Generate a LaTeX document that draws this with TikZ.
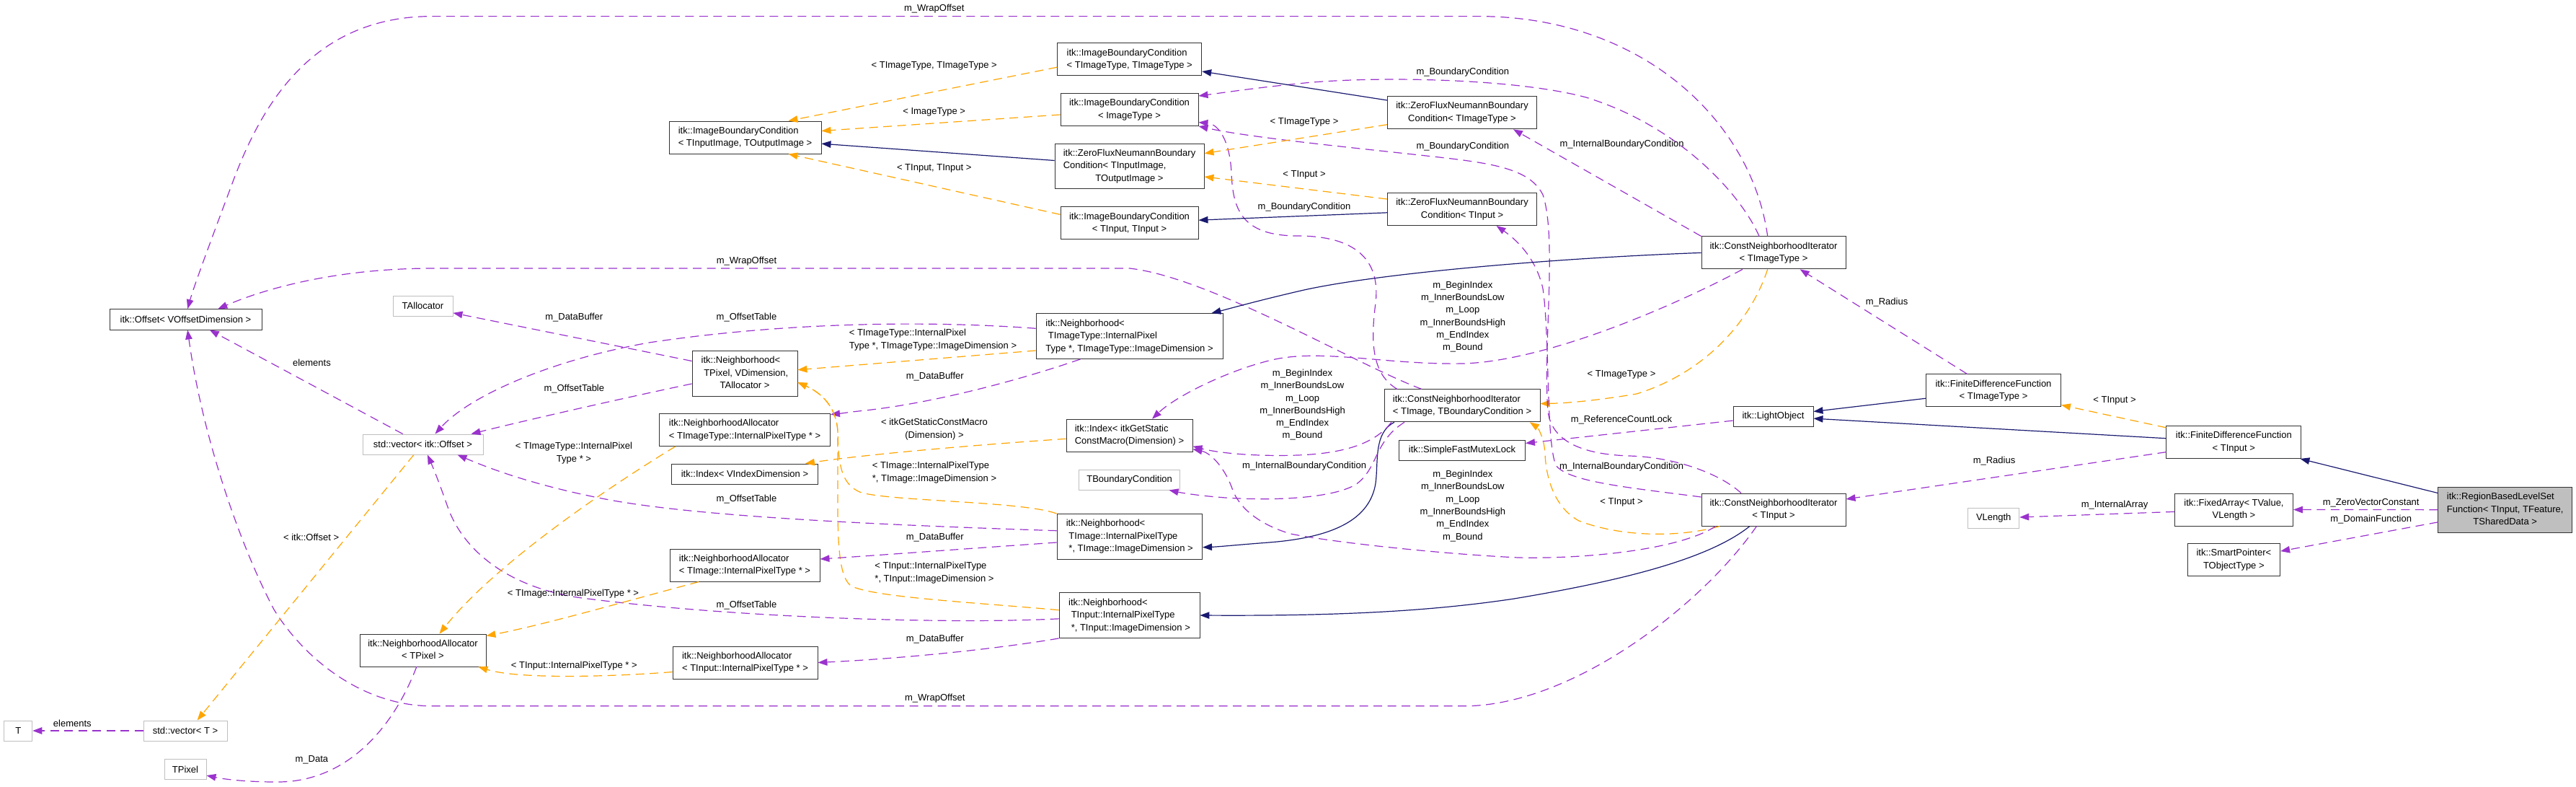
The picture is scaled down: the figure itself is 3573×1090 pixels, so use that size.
\documentclass[tikz,border=0pt]{standalone}
\usepackage{fontspec}
\setmainfont{Liberation Sans}
\usetikzlibrary{arrows.meta}
\definecolor{inhc}{HTML}{191970}
\definecolor{usec}{HTML}{9A32CD}
\definecolor{tplc}{HTML}{FFA500}
\definecolor{grayb}{HTML}{BFBFBF}
\definecolor{bord}{HTML}{333333}
\newcommand\dxfont{\fontsize{13}{17.5}\selectfont}
\newcommand\dxlab[2]{\begin{tabular}{@{}l@{}}#1\\\multicolumn{1}{@{}c@{}}{#2}\end{tabular}}
\tikzset{
  cls/.style 2 args={draw=bord, line width=0.9pt, fill=white, inner sep=0pt, minimum width=#1pt, minimum height=#2pt, font=\dxfont},
  ucls/.style 2 args={cls={#1}{#2}, draw=grayb},
  dxtip/.style={-{Triangle[length=13pt,width=9.5pt]}},
  inh/.style={draw=inhc, line width=1.2pt, dxtip},
  use/.style={draw=usec, line width=1.2pt, dash pattern=on 12pt off 7.5pt, dxtip},
  tpl/.style={draw=tplc, line width=1.2pt, dash pattern=on 12pt off 7.5pt, dxtip},
  lab/.style={font=\dxfont, inner sep=0pt, text height=9.4pt, text depth=2.6pt},
  mlab/.style={font={\fontsize{13}{17.3}\selectfont}, inner sep=0pt, align=center},
}
\begin{document}
\begin{tikzpicture}[x=1pt,y=-1pt]
\useasboundingbox (0,0) rectangle (3573,1090);
% ---------------- nodes
\node[cls={211}{28.4}] (off) at (257.5,442.8) {itk::Offset< VOffsetDimension >};
\node[ucls={83}{28}] (talloc) at (586.5,424) {TAllocator};
\node[ucls={167}{28}] (vecoff) at (586.5,616) {std::vector< itk::Offset >};
\node[ucls={39}{28}] (tT) at (25.3,1013) {T};
\node[ucls={116}{28}] (vecT) at (257,1013) {std::vector< T >};
\node[ucls={58}{27.5}] (tpix) at (257,1066.5) {TPixel};
\node[cls={175}{45}] (naPix) at (586.5,901.5) {\dxlab{itk::NeighborhoodAllocator}{< TPixel >}};
\node[cls={211}{45}] (ibcIO) at (1033.5,190.5) {\dxlab{itk::ImageBoundaryCondition}{< TInputImage, TOutputImage >}};
\node[cls={146}{63}] (nbPix) at (1033,517.5) {\dxlab{itk::Neighborhood<\\\ TPixel, VDimension,}{TAllocator >}};
\node[cls={237}{45}] (naTT) at (1033,596) {\dxlab{itk::NeighborhoodAllocator}{< TImageType::InternalPixelType * >}};
\node[cls={203}{28}] (idxV) at (1033,657) {itk::Index< VIndexDimension >};
\node[cls={208}{45}] (naTI) at (1033,783.7) {\dxlab{itk::NeighborhoodAllocator}{< TImage::InternalPixelType * >}};
\node[cls={201}{45}] (naTIn) at (1033.5,918.5) {\dxlab{itk::NeighborhoodAllocator}{< TInput::InternalPixelType * >}};
\node[cls={200}{45}] (ibcTT) at (1566.7,82.4) {\dxlab{itk::ImageBoundaryCondition}{< TImageType, TImageType >}};
\node[cls={191}{45}] (ibcI) at (1566.5,152) {\dxlab{itk::ImageBoundaryCondition}{< ImageType >}};
\node[cls={207}{62.7}] (zfIO) at (1566.5,230.4) {\dxlab{itk::ZeroFluxNeumannBoundary\\Condition< TInputImage,}{TOutputImage >}};
\node[cls={191}{45}] (ibcIn) at (1566.5,309.4) {\dxlab{itk::ImageBoundaryCondition}{< TInput, TInput >}};
\node[cls={259}{63}] (nbTT) at (1566.5,466) {\dxlab{itk::Neighborhood<\\\ TImageType::InternalPixel}{Type *, TImageType::ImageDimension >}};
\node[cls={175}{45}] (idxS) at (1566.5,603.7) {\dxlab{itk::Index< itkGetStatic}{ConstMacro(Dimension) >}};
\node[ucls={140}{28}] (tbc) at (1566.6,665) {TBoundaryCondition};
\node[cls={201.6}{62.5}] (nbTI) at (1566.8,743.7) {\dxlab{itk::Neighborhood<\\\ TImage::InternalPixelType}{\ *, TImage::ImageDimension >}};
\node[cls={195}{63}] (nbTIn) at (1566.5,853) {\dxlab{itk::Neighborhood<\\\ TInput::InternalPixelType}{\ *, TInput::ImageDimension >}};
\node[cls={207}{45.7}] (zfT) at (2028,156) {\dxlab{itk::ZeroFluxNeumannBoundary}{Condition< TImageType >}};
\node[cls={207}{45}] (zfIn) at (2028,290) {\dxlab{itk::ZeroFluxNeumannBoundary}{Condition< TInput >}};
\node[cls={200}{45}] (cniT) at (2460,350.4) {\dxlab{itk::ConstNeighborhoodIterator}{< TImageType >}};
\node[cls={216}{45}] (cniB) at (2028,562.4) {\dxlab{itk::ConstNeighborhoodIterator}{< TImage, TBoundaryCondition >}};
\node[cls={175}{28}] (mutex) at (2028,624) {itk::SimpleFastMutexLock};
\node[cls={200}{45}] (cniIn) at (2460,706.6) {\dxlab{itk::ConstNeighborhoodIterator}{< TInput >}};
\node[cls={111}{28}] (light) at (2459.5,577) {itk::LightObject};
\node[cls={187}{45}] (fdfT) at (2765,541.3) {\dxlab{itk::FiniteDifferenceFunction}{< TImageType >}};
\node[cls={187}{45}] (fdfIn) at (3098.3,613) {\dxlab{itk::FiniteDifferenceFunction}{< TInput >}};
\node[ucls={71}{28}] (vlen) at (2765.2,718.3) {VLength};
\node[cls={164}{45}] (fixed) at (3098.5,706.5) {\dxlab{itk::FixedArray< TValue,}{VLength >}};
\node[cls={128.6}{45.7}] (smart) at (3098.3,776) {\dxlab{itk::SmartPointer<}{TObjectType >}};
\node[cls={185.6}{62.7}, fill=grayb] (root) at (3474.7,706.7) {\dxlab{itk::RegionBasedLevelSet\\Function< TInput, TFeature,}{TSharedData >}};
% ---------------- edges
\draw[inh] (root) -- (fdfIn);
\draw[use] (root) -- (fixed);
\draw[use] (root) -- (smart);
\draw[inh] (fdfIn) -- (light);
\draw[use] (fdfIn) -- (cniIn);
\draw[tpl] (fdfIn) -- (fdfT);
\draw[inh] (fdfT) -- (light);
\draw[use] (fdfT) -- (cniT);
\draw[use] (fixed) -- (vlen);
\draw[use] (light) -- (mutex);
\draw[tpl] ([xshift=25.7pt]cniIn.south west) .. controls (2330,745) and (2250,745) .. (2190,722) .. controls (2150,700) and (2144,650) .. (2143,630) .. controls (2142,605) and (2132,592) .. ([xshift=-14.6pt]cniB.south east);
\draw[tpl] ([xshift=-8.3pt]cniT.south) .. controls (2430,440) and (2370,515) .. (2270,546) .. controls (2210,556) and (2170,559) .. ([yshift=2.8pt]cniB.east);
\draw[use] ([yshift=17.6pt]cniIn.west) .. controls (2260,676) and (2175,668) .. (2158,645) .. controls (2144,610) and (2150,470) .. (2140,400) .. controls (2130,355) and (2100,330) .. ([xshift=47.5pt]zfIn.south);
\draw[use] ([xshift=-45pt]cniIn.north) .. controls (2390,660) and (2330,634) .. (2260,632) .. controls (2195,630) and (2152,612) .. (2147,570) .. controls (2140,480) and (2160,330) .. (2140,270) .. controls (2120,230) and (2060,225) .. (1960,214) .. controls (1860,203) and (1730,190) .. (ibcI.south east);
\draw[use] ([xshift=20pt]cniIn.south west) .. controls (2330,762) and (2200,775) .. (2106,773) .. controls (2000,768) and (1850,752) .. (1790,740) .. controls (1740,725) and (1718,700) .. (1710,680) .. controls (1700,650) and (1680,628) .. ([yshift=-19pt]idxS.east);
\draw[use] ([xshift=-23.6pt]cniIn.south) .. controls (2360,840) and (2180,978.8) .. (2030,978.8) -- (600,978.8) .. controls (500,978.8) and (420,910) .. (380,845) .. controls (330,750) and (280,600) .. ([xshift=2.7pt]off.south);
\draw[inh] ([xshift=-33.2pt]cniIn.south) .. controls (2370,775) and (2250,805) .. (2100,830) .. controls (1980,848) and (1850,854) .. (nbTIn.east);
\draw[inh] ([xshift=-94pt]cniB.south) .. controls (1905,600) and (1912,640) .. (1908,670) .. controls (1900,720) and (1850,745) .. (1760,752) .. controls (1720,755) and (1690,758) .. ([yshift=-15pt]nbTI.east);
\draw[use] ([xshift=-80pt]cniB.south) .. controls (1905,612) and (1912,650) .. (1880,672) .. controls (1845,692) and (1760,694) .. (1700,690) .. controls (1660,687) and (1638,683) .. ([xshift=-15.6pt]tbc.south east);
\draw[use] ([xshift=-98pt]cniB.south) .. controls (1912,608) and (1880,628) .. (1800,631) .. controls (1740,633) and (1690,628) .. ([yshift=-15pt]idxS.east);
\draw[use] ([xshift=-90pt]cniB.north) .. controls (1905,520) and (1900,480) .. (1908,420) .. controls (1915,360) and (1880,327) .. (1800,327) .. controls (1722,327) and (1710,290) .. (1708,240) .. controls (1706,195) and (1690,172) .. ([yshift=-17.6pt]ibcI.east);
\draw[use] ([xshift=-56pt]cniB.north) .. controls (1880,505) and (1680,385) .. (1567,372) -- (600,372) .. controls (480,372) and (380,395) .. ([xshift=44.8pt]off.north);
\draw[use] ([xshift=-8.3pt]cniT.north) .. controls (2430,170) and (2280,22.6) .. (2050,22.6) -- (600,22.6) .. controls (430,22.6) and (360,150) .. (320,260) .. controls (290,340) and (268,400) .. ([xshift=2.7pt]off.north);
\draw[use] ([xshift=-20pt]cniT.north) .. controls (2415,270) and (2330,175) .. (2200,135) .. controls (2100,108) and (1900,105) .. (1800,116) .. controls (1740,122) and (1700,128) .. ([yshift=19pt]ibcI.east);
\draw[use] (cniT.north west) -- ([xshift=-33pt]zfT.south east);
\draw[use] ([xshift=-43pt]cniT.south) .. controls (2330,420) and (2150,500) .. (2030,504) .. controls (1920,506) and (1830,482) .. (1760,500) .. controls (1700,515) and (1630,550) .. ([xshift=31.5pt]idxS.north);
\draw[inh] (cniT.west) .. controls (2150,358) and (1900,380) .. (1800,404) .. controls (1740,418) and (1705,428) .. ([xshift=-16pt]nbTT.north east);
\draw[tpl] ([yshift=-16.7pt]zfT.west) -- ([yshift=17.7pt]zfIO.east);
\draw[inh] ([yshift=17pt]zfT.west) -- ([yshift=-16.6pt]ibcTT.east);
\draw[tpl] ([yshift=14pt]zfIn.west) -- ([yshift=-14.6pt]zfIO.east);
\draw[inh] ([yshift=-4.8pt]zfIn.west) -- ([yshift=4.2pt]ibcIn.east);
\draw[inh] ([yshift=7.9pt]zfIO.west) -- ([yshift=-8.7pt]ibcIO.east);
\draw[tpl] ([yshift=-10.8pt]ibcTT.west) -- ([xshift=60pt]ibcIO.north);
\draw[tpl] ([yshift=-7pt]ibcI.west) -- ([yshift=9pt]ibcIO.east);
\draw[tpl] ([yshift=12pt]ibcIn.west) -- ([xshift=60pt]ibcIO.south);
\draw[tpl] ([yshift=-20pt]nbTT.west) -- ([yshift=4.8pt]nbPix.east);
\draw[use] ([yshift=10.7pt]nbTT.west) .. controls (1300,445) and (1100,445) .. (900,475) .. controls (760,500) and (650,550) .. ([xshift=17pt]vecoff.north);
\draw[use] ([xshift=-68pt]nbTT.south) .. controls (1420,525) and (1300,558) .. (1200,569) .. controls (1180,571) and (1168,573) .. ([yshift=21.5pt]naTT.east);
\draw[tpl] ([yshift=-4.6pt]idxS.west) .. controls (1350,617) and (1200,630) .. ([xshift=-18pt]idxV.north east);
\draw[tpl] (nbTI.north west) .. controls (1420,695) and (1240,695) .. (1195,683) .. controls (1165,672) and (1163,640) .. (1162,600) .. controls (1161,565) and (1140,545) .. ([yshift=-12.5pt]nbPix.east);
\draw[tpl] ([yshift=7.3pt]nbTIn.west) .. controls (1350,835) and (1210,828) .. (1180,812) .. controls (1165,800) and (1162,760) .. (1162,700) -- (1162,600) .. controls (1161,565) and (1140,545) .. ([yshift=-12.5pt]nbPix.east);
\draw[use] ([yshift=8pt]nbTI.west) .. controls (1200,727) and (950,715) .. (830,690) .. controls (740,672) and (680,650) .. ([xshift=48pt]vecoff.south);
\draw[use] ([yshift=-8.3pt]nbTI.west) .. controls (1350,760) and (1200,771) .. ([yshift=8.7pt]naTI.east);
\draw[use] ([yshift=-4.8pt]nbTIn.west) .. controls (1300,866) and (1000,855) .. (800,828) .. controls (700,812) and (640,760) .. (620,700) .. controls (606,660) and (598,642) .. ([xshift=6.5pt]vecoff.south);
\draw[use] (nbTIn.south west) .. controls (1380,900) and (1250,913) .. (naTIn.east);
\draw[use] ([yshift=17pt]nbPix.west) -- ([yshift=-9.8pt]talloc.east);
\draw[use] ([yshift=-14.5pt]nbPix.west) .. controls (850,555) and (720,585) .. ([xshift=-17pt]vecoff.north east);
\draw[tpl] ([xshift=-96.3pt]naTT.south) .. controls (820,690) and (680,790) .. ([xshift=23pt]naPix.north);
\draw[tpl] ([xshift=-64pt]naTI.south) .. controls (880,830) and (760,865) .. ([yshift=20pt]naPix.east);
\draw[tpl] ([yshift=-13pt]naTIn.west) .. controls (850,938) and (720,942) .. ([xshift=-11pt]naPix.south east);
\draw[use] ([xshift=-8.7pt]naPix.south) .. controls (545,1010) and (480,1085) .. (383,1084) .. controls (340,1084) and (310,1080) .. ([yshift=-8.5pt]tpix.east);
\draw[tpl] ([xshift=-12.5pt]vecoff.south) -- ([xshift=16.6pt]vecT.north);
\draw[use] (vecT) -- (tT);
\draw[use] ([xshift=-27.8pt]vecoff.north) -- ([xshift=33.3pt]off.south);
% ---------------- labels
\node[lab] (L1) at (3288.7,697) {m\_ZeroVectorConstant};
\node[lab] (L2) at (3288.7,720) {m\_DomainFunction};
\node[lab] (L3) at (2766,639) {m\_Radius};
\node[lab] (L4) at (2933,555.4) {< TInput >};
\node[lab] (L5) at (2617,419.5) {m\_Radius};
\node[lab] (L6) at (2933,700) {m\_InternalArray};
\node[lab] (L7) at (2249,582) {m\_ReferenceCountLock};
\node[lab] (L8) at (2249,696.2) {< TInput >};
\node[lab] (L9) at (2249,519) {< TImageType >};
\node[lab] (L10) at (2249,647.5) {m\_InternalBoundaryCondition};
\node[lab] (L11) at (2028.8,203) {m\_BoundaryCondition};
\node[mlab] (L12) at (2028.8,701.4) {m\_BeginIndex\\m\_InnerBoundsLow\\m\_Loop\\m\_InnerBoundsHigh\\m\_EndIndex\\m\_Bound};
\node[lab] (L13) at (1296.8,968.4) {m\_WrapOffset};
\node[lab] (L14) at (1809,646.5) {m\_InternalBoundaryCondition};
\node[mlab] (L15) at (1806.5,561.3) {m\_BeginIndex\\m\_InnerBoundsLow\\m\_Loop\\m\_InnerBoundsHigh\\m\_EndIndex\\m\_Bound};
\node[lab] (L16) at (1809,286.8) {m\_BoundaryCondition};
\node[lab] (L17) at (1035.5,362.5) {m\_WrapOffset};
\node[lab] (L18) at (1295.7,12.2) {m\_WrapOffset};
\node[lab] (L19) at (2028.8,99.8) {m\_BoundaryCondition};
\node[lab] (L20) at (2249.6,200) {m\_InternalBoundaryCondition};
\node[mlab] (L21) at (2028.8,439) {m\_BeginIndex\\m\_InnerBoundsLow\\m\_Loop\\m\_InnerBoundsHigh\\m\_EndIndex\\m\_Bound};
\node[lab] (L22) at (1809,169) {< TImageType >};
\node[lab] (L23) at (1809,241.6) {< TInput >};
\node[lab] (L24) at (1295.7,91) {< TImageType, TImageType >};
\node[lab] (L25) at (1295.7,154.7) {< ImageType >};
\node[lab] (L26) at (1295.7,232.9) {< TInput, TInput >};
\node[mlab, align=left] (L27) at (1294,471) {< TImageType::InternalPixel\\Type *, TImageType::ImageDimension >};
\node[lab] (L28) at (1035.5,439.7) {m\_OffsetTable};
\node[lab] (L29) at (1296.8,522.4) {m\_DataBuffer};
\node[mlab] (L30) at (1296,595) {< itkGetStaticConstMacro\\(Dimension) >};
\node[mlab, align=left] (L31) at (1296,655) {< TImage::InternalPixelType\\*, TImage::ImageDimension >};
\node[mlab, align=left] (L32) at (1296,794) {< TInput::InternalPixelType\\*, TInput::ImageDimension >};
\node[lab] (L33) at (1035.5,691.7) {m\_OffsetTable};
\node[lab] (L34) at (1296.8,744.9) {m\_DataBuffer};
\node[lab] (L35) at (1035.5,838.7) {m\_OffsetTable};
\node[lab] (L36) at (1296.8,886.3) {m\_DataBuffer};
\node[lab] (L37) at (796.3,439.7) {m\_DataBuffer};
\node[lab] (L38) at (796.3,538.8) {m\_OffsetTable};
\node[mlab] (L39) at (796,628) {< TImageType::InternalPixel\\Type * >};
\node[lab] (L40) at (795,823) {< TImage::InternalPixelType * >};
\node[lab] (L41) at (796.3,922.8) {< TInput::InternalPixelType * >};
\node[lab] (L42) at (432.4,1053) {m\_Data};
\node[lab] (L43) at (431.6,745.6) {< itk::Offset >};
\node[lab] (L44) at (100.3,1003.8) {elements};
\node[lab] (L45) at (432.4,504) {elements};
\end{tikzpicture}
\end{document}
